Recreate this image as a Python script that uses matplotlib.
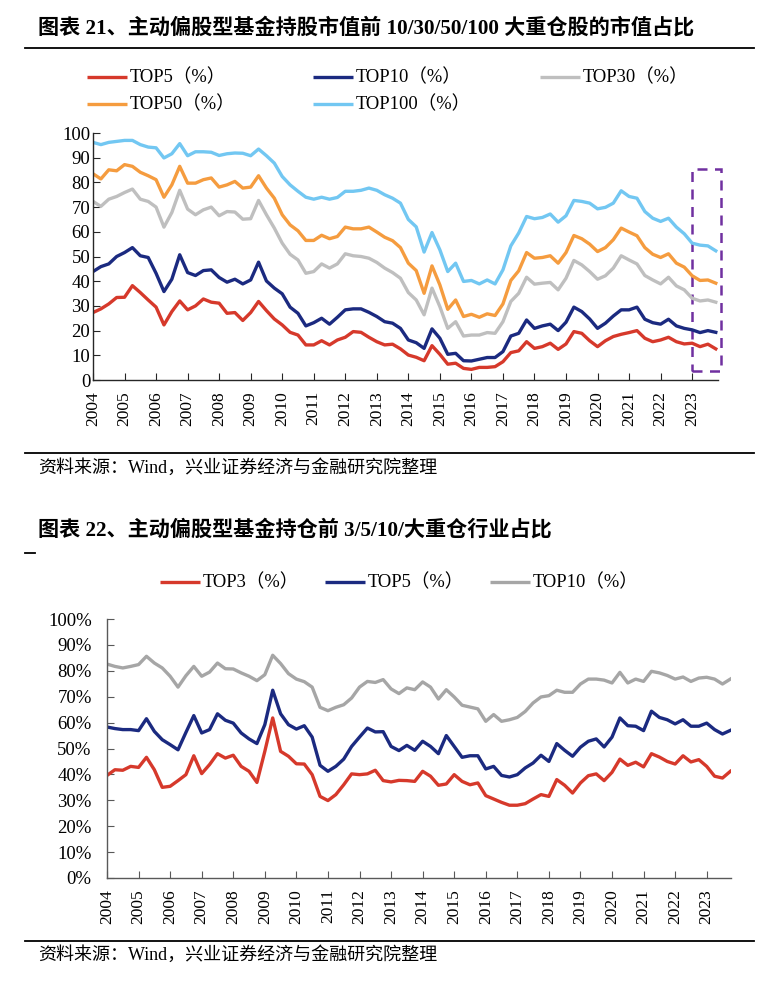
"""
主动偏股型基金持股集中度：前N大重仓股市值占比 & 前N大重仓行业占比
"""

import matplotlib
matplotlib.use('Agg')
import matplotlib.pyplot as plt
from matplotlib.lines import Line2D
from matplotlib.patches import Rectangle
from matplotlib.ticker import PercentFormatter
import numpy as np
import pandas as pd

plt.rcParams['font.family'] = ['Liberation Serif', 'Noto Sans CJK SC']

W, H = 783, 994

# ---------------- data (quarterly, 2004Q1 - 2023Q4) ----------------
quarters = pd.period_range('2004Q1', '2023Q4', freq='Q')
years = list(range(2004, 2024))

# chart 1: market value share of top N holdings (%)
top5 = [27.3, 28.8, 30.8, 33.4, 33.5, 38.2, 35.4, 32.4, 29.5, 22.3, 27.7, 32.0,
        28.4, 30.0, 32.8, 31.5, 31.1, 27.0, 27.3, 24.1, 27.3, 31.8, 28.1, 24.7,
        22.3, 19.3, 18.2, 14.2, 14.2, 15.9, 14.2, 16.2, 17.3, 19.6, 19.3, 17.3,
        15.5, 14.2, 14.5, 12.6, 10.1, 9.2, 7.8, 13.9, 10.4, 6.4, 6.8, 4.7,
        4.3, 5.1, 5.1, 5.4, 7.4, 11.1, 11.8, 15.5, 12.8, 13.5, 14.9, 12.4,
        14.6, 19.6, 18.9, 15.9, 13.5, 15.9, 17.6, 18.5, 19.2, 20.0, 16.9, 15.5,
        16.2, 17.3, 15.5, 14.6, 14.9, 13.5, 14.5, 12.6]
top10 = [43.9, 45.9, 47.0, 50.0, 51.6, 53.6, 50.3, 49.6, 43.2, 35.8, 40.8, 50.7,
         43.5, 42.3, 44.3, 44.6, 41.5, 39.6, 40.8, 38.9, 40.5, 47.7, 40.1, 37.2,
         34.9, 29.5, 27.0, 21.9, 23.2, 25.0, 22.6, 25.4, 28.4, 28.8, 28.8, 27.4,
         25.7, 23.6, 23.0, 20.9, 16.2, 15.1, 12.8, 20.7, 16.9, 10.4, 10.8, 7.8,
         7.7, 8.4, 9.1, 9.1, 11.5, 17.8, 18.9, 24.3, 20.9, 21.9, 22.6, 20.0,
         23.4, 29.5, 27.7, 24.7, 20.9, 23.0, 25.9, 28.4, 28.4, 29.5, 24.6, 23.2,
         22.6, 24.6, 21.9, 20.9, 20.3, 19.2, 20.0, 19.3]
top30 = [72.3, 70.3, 73.2, 74.3, 75.9, 77.3, 73.2, 72.3, 70.0, 61.9, 67.8, 76.8,
         69.2, 66.9, 68.9, 70.0, 66.5, 68.2, 68.0, 65.1, 65.3, 72.7, 66.9, 61.5,
         55.4, 50.9, 48.6, 43.2, 43.9, 47.0, 45.3, 47.0, 51.1, 50.3, 50.0, 49.3,
         47.6, 45.3, 43.5, 41.2, 35.4, 32.4, 26.4, 37.2, 29.7, 20.9, 23.6, 17.8,
         18.2, 18.2, 19.2, 18.9, 23.6, 31.8, 35.1, 41.6, 38.8, 39.2, 39.5, 36.5,
         41.2, 48.4, 46.6, 43.9, 40.8, 42.2, 45.3, 50.3, 48.6, 47.0, 42.3, 40.5,
         38.9, 41.6, 38.1, 36.5, 33.1, 32.0, 32.4, 31.5]
top50 = [83.5, 81.4, 85.1, 84.7, 87.2, 86.5, 84.1, 82.7, 81.1, 74.0, 79.0, 86.5,
         79.7, 79.7, 81.1, 81.8, 78.1, 79.0, 80.4, 77.7, 78.1, 82.7, 77.7, 73.6,
         66.9, 62.8, 60.4, 56.5, 56.5, 58.6, 57.2, 58.1, 61.9, 61.2, 61.2, 61.9,
         59.9, 57.8, 56.4, 53.6, 47.3, 44.3, 35.1, 46.2, 38.5, 28.6, 32.4, 25.7,
         26.6, 25.4, 26.8, 26.1, 30.8, 40.3, 44.2, 51.6, 49.3, 49.6, 50.3, 47.3,
         51.6, 58.5, 57.2, 55.0, 52.0, 53.6, 56.8, 61.5, 59.9, 58.4, 53.6, 50.9,
         49.6, 51.1, 47.3, 45.7, 42.2, 40.3, 40.5, 39.2]
top100 = [96.2, 95.3, 96.2, 96.6, 97.0, 97.0, 95.3, 94.3, 94.0, 89.9, 91.6, 95.7,
          90.8, 92.4, 92.4, 92.2, 90.9, 91.6, 91.9, 91.8, 90.8, 93.5, 90.8, 87.8,
          82.4, 79.0, 76.4, 74.0, 73.2, 74.0, 73.2, 73.9, 76.4, 76.4, 76.8, 77.7,
          76.8, 75.0, 73.6, 71.6, 65.0, 62.0, 51.8, 59.7, 52.7, 43.9, 47.3, 39.9,
          40.3, 38.9, 40.5, 38.9, 44.6, 54.3, 59.5, 66.2, 65.3, 65.8, 67.2, 63.9,
          66.5, 72.7, 72.3, 71.6, 69.3, 69.9, 71.6, 76.6, 74.3, 73.6, 68.2, 65.5,
          64.2, 65.5, 61.9, 59.2, 55.4, 54.6, 54.3, 52.3]

# chart 2: share of top N industries (%)
ind_top3 = [39.6, 41.8, 41.6, 43.1, 42.7, 46.6, 41.8, 35.0, 35.4, 37.6, 39.9, 47.2,
            40.3, 43.8, 48.0, 46.3, 47.4, 43.1, 41.2, 36.9, 48.9, 61.8, 48.9, 47.0,
            44.1, 44.0, 39.9, 31.5, 29.9, 32.2, 36.0, 40.2, 39.9, 40.2, 41.6, 37.6,
            37.1, 37.7, 37.6, 37.3, 41.2, 39.3, 35.8, 36.3, 39.9, 37.3, 36.0, 36.7,
            31.8, 30.5, 29.2, 28.1, 28.1, 28.7, 30.5, 32.2, 31.5, 38.0, 35.8, 32.8,
            36.7, 39.5, 40.2, 37.6, 40.8, 45.9, 43.5, 44.7, 42.9, 48.0, 46.7, 45.0,
            44.0, 47.2, 44.8, 45.7, 43.1, 39.3, 38.6, 41.2]
ind_top5 = [58.3, 57.7, 57.3, 57.3, 56.9, 61.5, 56.6, 53.4, 51.5, 49.5, 56.2, 62.7,
            56.0, 57.3, 63.4, 60.9, 59.8, 56.0, 53.7, 51.9, 59.2, 72.5, 63.4, 59.2,
            57.5, 58.8, 54.4, 43.5, 41.2, 43.1, 45.9, 50.8, 54.4, 57.9, 56.4, 56.5,
            50.8, 49.2, 51.2, 49.3, 52.8, 50.8, 48.0, 55.0, 50.8, 46.6, 47.2, 47.2,
            42.1, 43.1, 39.6, 39.0, 39.9, 42.5, 44.4, 47.4, 45.0, 51.9, 49.3, 47.0,
            50.5, 52.8, 53.7, 50.6, 54.4, 61.8, 58.8, 58.6, 56.9, 64.4, 62.0, 61.1,
            59.5, 61.1, 58.6, 58.6, 59.8, 57.3, 55.6, 57.0]
ind_top10 = [82.6, 81.7, 81.1, 81.7, 82.4, 85.6, 83.0, 81.1, 77.9, 73.7, 78.1, 81.7,
             77.9, 79.5, 83.0, 80.8, 80.7, 79.2, 77.9, 76.2, 78.5, 86.0, 82.8, 78.9,
             76.8, 75.8, 73.7, 65.9, 64.6, 65.9, 66.9, 69.5, 73.7, 75.9, 75.5, 76.6,
             73.0, 71.2, 73.4, 72.7, 75.7, 73.7, 69.1, 72.7, 69.9, 66.7, 66.0, 65.3,
             60.5, 63.1, 60.5, 61.1, 62.0, 64.3, 67.6, 69.9, 70.4, 72.5, 71.7, 71.7,
             74.9, 76.8, 76.8, 76.4, 75.3, 79.4, 75.3, 76.8, 75.9, 79.8, 79.2, 78.2,
             76.8, 77.6, 75.9, 77.2, 77.5, 76.8, 74.9, 76.8]

labels1 = ['TOP5（%）', 'TOP10（%）', 'TOP30（%）', 'TOP50（%）', 'TOP100（%）']
colors1 = ['#D6392B', '#1B2A80', '#BFBFBF', '#F59C3F', '#72C7F2']
labels2 = ['TOP3（%）', 'TOP5（%）', 'TOP10（%）']
colors2 = ['#D6392B', '#1B2A80', '#A6A6A6']

x = quarters.year + (quarters.quarter - 1) / 4.0


def fx(px):
    return px / W


def fy(py):
    return 1 - py / H


def hrule(fig, py, x0=25, x1=754, lw=1.3):
    fig.add_artist(Line2D([fx(x0), fx(x1)], [fy(py), fy(py)], color='black', lw=lw))


def legend_entry(fig, px, py, label, color):
    fig.add_artist(Line2D([fx(px), fx(px + 40)], [fy(py), fy(py)],
                          color=color, lw=2.4, solid_capstyle='butt'))
    fig.text(fx(px + 43), fy(py), label, fontsize=13.3, va='center', ha='left')


def style_axes(ax, spine_color, ypad):
    for s in ['top', 'right']:
        ax.spines[s].set_visible(False)
    for s in ['left', 'bottom']:
        ax.spines[s].set_color(spine_color)
        ax.spines[s].set_linewidth(1.0)
    ax.set_xticks(years)
    ax.set_xticklabels([str(y) for y in years], rotation=90, fontsize=12.5)
    ax.tick_params(axis='x', direction='in', length=5, pad=8, color=spine_color)
    ax.tick_params(axis='y', direction='in', length=5, pad=ypad, labelsize=13.5,
                   color=spine_color)


fig = plt.figure(figsize=(W / 100, H / 100), dpi=100)
fig.patch.set_facecolor('white')

# ---------------- chart 1 ----------------
fig.text(fx(38), fy(28), '图表 21、主动偏股型基金持股市值前 10/30/50/100 大重仓股的市值占比',
         fontsize=15.2, fontweight='bold', va='center', ha='left')
hrule(fig, 48)

leg_pos1 = [(87, 77), (313, 77), (540, 77), (87, 104), (313, 104)]
for (px, py), lab, col in zip(leg_pos1, labels1, colors1):
    legend_entry(fig, px, py, lab, col)

ax1 = fig.add_axes([fx(93), fy(380), (718 - 93) / W, (380 - 133) / H])
for vals, col in zip([top5, top10, top30, top50, top100], colors1):
    ax1.plot(x, vals, color=col, lw=2.4)
ax1.set_xlim(2004, 2023.82)
ax1.set_ylim(0, 100)
ax1.set_yticks(range(0, 101, 10))
style_axes(ax1, '#262626', 2)

ax1.add_patch(Rectangle((2023.0, 3.6), 0.92, 81.9, fill=False, ec='#7030A0',
                        lw=1.8, ls=(0, (4, 3)), clip_on=False))

hrule(fig, 453)
fig.text(fx(38), fy(468), '资料来源：Wind，兴业证券经济与金融研究院整理',
         fontsize=13, va='center', ha='left')

# ---------------- chart 2 ----------------
fig.text(fx(38), fy(530), '图表 22、主动偏股型基金持仓前 3/5/10/大重仓行业占比',
         fontsize=15.2, fontweight='bold', va='center', ha='left')
hrule(fig, 553, 25, 35)

leg_pos2 = [(160, 582), (325, 582), (490, 582)]
for (px, py), lab, col in zip(leg_pos2, labels2, colors2):
    legend_entry(fig, px, py, lab, col)

ax2 = fig.add_axes([fx(107), fy(878), (731 - 107) / W, (878 - 619) / H])
for vals, col in zip([ind_top3, ind_top5, ind_top10], colors2):
    ax2.plot(x, vals, color=col, lw=2.4)
ax2.set_xlim(2004, 2023.77)
ax2.set_ylim(0, 100)
ax2.set_yticks(range(0, 101, 10))
ax2.yaxis.set_major_formatter(PercentFormatter(100, decimals=0))
style_axes(ax2, '#595959', 11)

hrule(fig, 941)
fig.text(fx(38), fy(955), '资料来源：Wind，兴业证券经济与金融研究院整理',
         fontsize=13, va='center', ha='left')

fig.savefig('out.png', dpi=100, facecolor='white')
